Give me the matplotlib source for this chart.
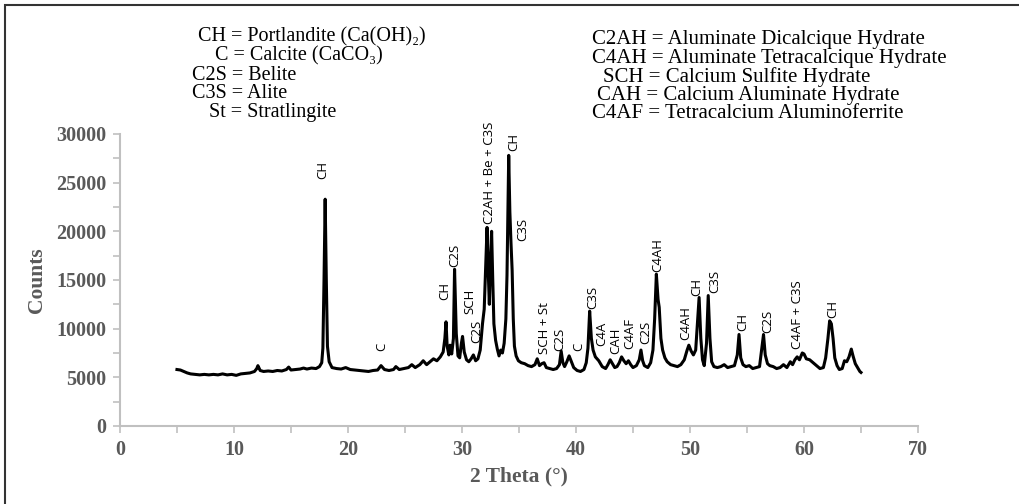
import matplotlib.pyplot as plt
from matplotlib.ticker import MultipleLocator
from matplotlib.patches import Rectangle

# XRD pattern
two_theta = [
    5.0, 5.3, 5.6, 5.9, 6.2, 6.6, 7.0, 7.4, 7.8, 8.2, 8.6, 9.0, 9.4, 9.8, 10.2, 10.6,
    11.0, 11.4, 11.8, 12.0, 12.1, 12.3, 12.6, 13.0, 13.4, 13.8, 14.2, 14.6, 14.8, 15.0,
    15.4, 15.8, 16.1, 16.4, 16.8, 17.2, 17.5, 17.7, 17.8, 17.9, 18.0, 18.1, 18.2, 18.35,
    18.6, 19.0, 19.4, 19.8, 20.2, 20.6, 21.0, 21.4, 21.8, 22.2, 22.6, 22.9, 23.2, 23.6,
    24.0, 24.2, 24.5, 24.9, 25.3, 25.6, 25.9, 26.3, 26.6, 26.9, 27.2, 27.5, 27.8, 28.1,
    28.35, 28.5, 28.6, 28.7, 28.85, 28.95, 29.1, 29.25, 29.35, 29.5, 29.65, 29.8, 29.95,
    30.05, 30.2, 30.4, 30.6, 30.8, 31.0, 31.2, 31.4, 31.6, 31.8, 31.95, 32.1, 32.2, 32.3,
    32.4, 32.5, 32.6, 32.7, 32.8, 32.95, 33.1, 33.25, 33.4, 33.55, 33.7, 33.85, 33.95,
    34.05, 34.1, 34.2, 34.3, 34.4, 34.5, 34.6, 34.75, 34.95, 35.2, 35.5, 35.8, 36.1, 36.4,
    36.6, 36.8, 37.0, 37.2, 37.4, 37.7, 38.0, 38.3, 38.55, 38.7, 38.85, 39.0, 39.2, 39.4,
    39.6, 39.8, 40.1, 40.4, 40.7, 40.9, 41.05, 41.2, 41.35, 41.5, 41.7, 41.85, 42.0, 42.3,
    42.6, 42.8, 43.0, 43.2, 43.4, 43.6, 43.8, 44.0, 44.2, 44.4, 44.6, 44.8, 45.0, 45.3,
    45.55, 45.7, 45.85, 46.0, 46.3, 46.55, 46.75, 46.9, 47.05, 47.2, 47.3, 47.45, 47.6,
    47.8, 48.0, 48.3, 48.6, 48.9, 49.2, 49.5, 49.75, 49.9, 50.1, 50.3, 50.5, 50.65, 50.8,
    50.95, 51.1, 51.25, 51.45, 51.6, 51.75, 51.9, 52.1, 52.4, 52.7, 53.0, 53.3, 53.6, 53.9,
    54.15, 54.3, 54.45, 54.65, 54.9, 55.2, 55.5, 55.8, 56.1, 56.3, 56.45, 56.6, 56.8, 57.0,
    57.3, 57.6, 57.9, 58.2, 58.5, 58.8, 59.0, 59.2, 59.4, 59.6, 59.85, 60.0, 60.2, 60.5,
    60.8, 61.1, 61.4, 61.7, 61.9, 62.1, 62.25, 62.4, 62.55, 62.7, 62.9, 63.1, 63.35, 63.55,
    63.75, 63.95, 64.15, 64.3, 64.5, 64.7, 64.9, 65.0,
]
counts = [
    5800, 5750, 5600, 5450, 5350, 5300, 5250, 5300, 5250, 5300, 5250, 5350, 5250, 5300, 5200, 5350,
    5400, 5450, 5600, 5900, 6200, 5700, 5600, 5650, 5600, 5700, 5650, 5800, 6050, 5750,
    5800, 5850, 5950, 5850, 5950, 5900, 6100, 6500, 8000, 15000, 23300, 15000, 8200, 6600,
    6000, 5900, 5850, 6000, 5800, 5750, 5700, 5650, 5600, 5700, 5750, 6200, 5800, 5700,
    5800, 6100, 5800, 5900, 6000, 6300, 6000, 6300, 6700, 6300, 6600, 6900, 6700, 7100,
    7600, 9000, 10700, 8200, 7300, 8300, 7400, 9000, 16100, 9500, 7200, 7000, 8500,
    9200, 7600, 6800, 6600, 6900, 7300, 6700, 6900, 7800, 10500, 12000, 17000, 20400, 16000,
    12500, 17000, 20000, 15000, 10500, 8800, 7900, 7200, 7800, 7500, 8500, 11000, 15500,
    24000, 27800, 22000, 18800, 16000, 11000, 8200, 7200, 6700, 6500, 6400, 6200, 6100, 6300,
    6900, 6200, 6400, 6500, 6000, 5900, 5800, 5900, 6300, 7700, 6500, 6100, 6600, 7200,
    6600, 6000, 5700, 5600, 5800, 6500, 8000, 11800, 9000, 7800, 7100, 6900, 6700, 6100,
    5900, 6300, 6800, 6400, 6000, 6100, 6500, 7100, 6700, 6400, 6700, 6300, 6000, 6200,
    6800, 7800, 6700, 6200, 6000, 6500, 7800, 11000, 15600, 13000, 12200, 9000, 7800,
    7000, 6600, 6300, 6200, 6100, 6300, 6800, 7800, 8300, 7700, 7300, 7800, 10500, 13200,
    9000, 6800, 6200, 8500, 13400, 9000, 6600, 6100, 6000, 6100, 6300, 6000, 6100, 6200,
    7300, 9400, 7000, 6300, 6100, 6200, 5900, 6000, 6100, 8000, 9400, 7300, 6400, 6200,
    6100, 5900, 6000, 6300, 6000, 6600, 6300, 6800, 7100, 6800, 7500, 7400, 6900, 6800,
    6500, 6200, 5900, 6000, 7000, 9000, 10800, 10500, 9000, 7000, 6200, 5800, 5900, 6700,
    6600, 7100, 7900, 7200, 6400, 6000, 5600, 5500,
]

# phase labels over the peaks
peak_labels = ['CH', 'C', 'CH', 'C2S', 'SCH', 'C2S', 'C2AH + Be + C3S', 'CH', 'C3S',
               'SCH + St', 'C2S', 'C', 'C3S', 'C4A', 'CAH', 'C4AF', 'C2S', 'C4AH',
               'C4AH', 'CH', 'C3S', 'CH', 'C2S', 'C4AF + C3S', 'CH']
label_x = [17.8, 23.0, 28.5, 29.4, 30.7, 31.3, 32.4, 34.5, 35.3, 37.2, 38.6, 40.2,
           41.5, 42.3, 43.5, 44.7, 46.1, 47.2, 49.6, 50.6, 52.2, 54.6, 56.8, 59.4, 62.5]
label_y = [25400, 7700, 12900, 16300, 11500, 8500, 20800, 28300, 19000, 7400, 7700, 7700,
           12000, 8200, 7400, 7900, 8400, 15800, 8800, 13400, 13700, 9800, 9600, 7900, 11100]

legend_left = ['CH = Portlandite (Ca(OH)\u2082)', 'C = Calcite (CaCO\u2083)',
               'C2S = Belite', 'C3S = Alite', 'St = Stratlingite']
legend_right = ['C2AH = Aluminate Dicalcique Hydrate', 'C4AH = Aluminate Tetracalcique Hydrate',
                'SCH = Calcium Sulfite Hydrate', 'CAH = Calcium Aluminate Hydrate',
                'C4AF = Tetracalcium Aluminoferrite']
left_x = [198, 215, 192, 192, 209]
right_x = [592, 592, 603, 597, 592]

serif = ['Liberation Serif', 'DejaVu Serif']
grey = '#595959'

fig = plt.figure(figsize=(10.2, 5.04), dpi=100)
ax = fig.add_axes([0.1176, 0.1548, 0.7824, 0.5794])

ax.plot(two_theta, counts, color='black', linewidth=2.2)

for txt, x, y in zip(peak_labels, label_x, label_y):
    ax.text(x, y, txt, rotation=90, ha='center', va='bottom',
            fontsize=9.5, family=['Open Sans', 'DejaVu Sans'], color='black')

ax.set_xlim(0, 70)
ax.set_ylim(0, 30000)
ax.xaxis.set_major_locator(MultipleLocator(10))
ax.xaxis.set_minor_locator(MultipleLocator(5))
ax.yaxis.set_major_locator(MultipleLocator(5000))
ax.yaxis.set_minor_locator(MultipleLocator(2500))

for s in ['top', 'right']:
    ax.spines[s].set_visible(False)
for s in ['left', 'bottom']:
    ax.spines[s].set_color('#c0c0c0')
    ax.spines[s].set_linewidth(1.5)
ax.tick_params(which='both', direction='out', color='#c0c0c0', width=1.2)
ax.tick_params(which='major', length=5, labelsize=14.5, labelcolor=grey, pad=5)
ax.tick_params(which='minor', length=5)
for lab in ax.get_xticklabels() + ax.get_yticklabels():
    lab.set_family(serif)
    lab.set_fontweight('bold')

ax.set_xlabel('2 Theta (\u00b0)', fontsize=15.5, fontweight='bold', color=grey,
              family=serif, labelpad=5)
ax.set_ylabel('Counts', fontsize=15.5, fontweight='bold', color=grey,
              family=serif, labelpad=6)

W, H = 1020, 504
for i, txt in enumerate(legend_left):
    fig.text(left_x[i] / W, 1 - (37 + 19 * i) / H, txt, fontsize=14.5,
             family=serif, va='center', ha='left')
for i, txt in enumerate(legend_right):
    fig.text(right_x[i] / W, 1 - (40 + 18.5 * i) / H, txt, fontsize=15,
             family=serif, va='center', ha='left')

# outer frame of the image
fig.patches.append(Rectangle((5 / W, -0.05), 1.1, 1.05 - 5 / H, transform=fig.transFigure,
                             fill=False, edgecolor='#333333', linewidth=1.5))

fig.savefig('out.png', dpi=100)
